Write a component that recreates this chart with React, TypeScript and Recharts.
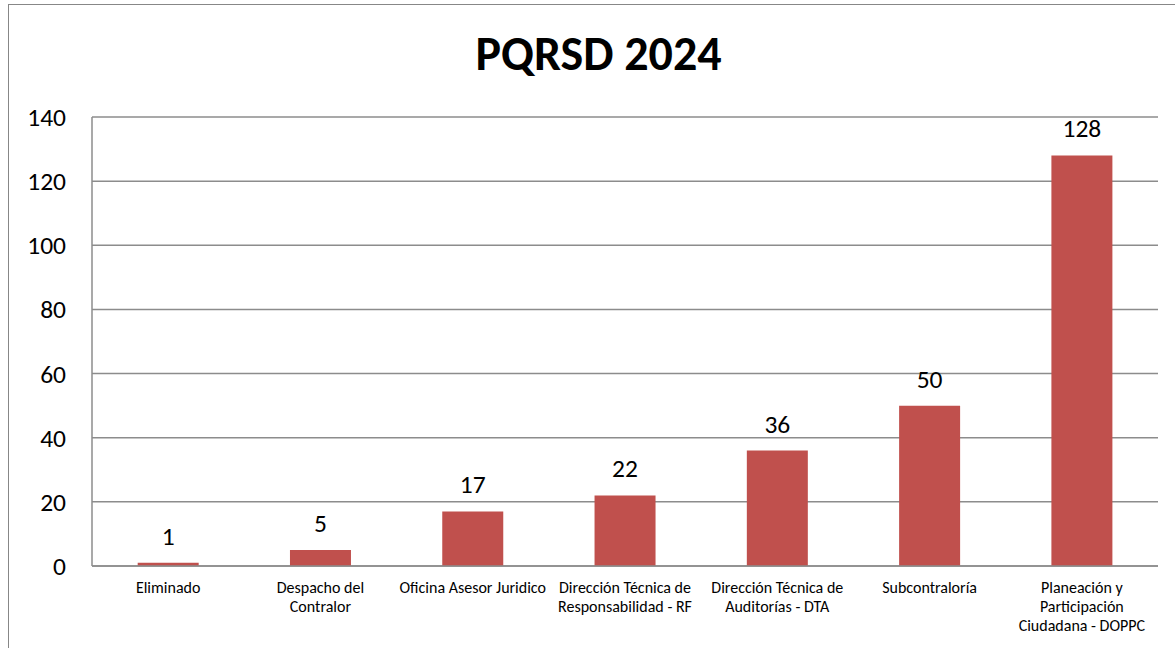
import React from 'react';
import { BarChart, Bar, XAxis, YAxis, CartesianGrid, LabelList } from 'recharts';

const categories = [
  'Eliminado',
  'Despacho del\nContralor',
  'Oficina Asesor Juridico',
  'Dirección Técnica de\nResponsabilidad - RF',
  'Dirección Técnica de\nAuditorías - DTA',
  'Subcontraloría',
  'Planeación y\nParticipación\nCiudadana - DOPPC',
];
const counts = [1, 5, 17, 22, 36, 50, 128];
const yTicks = [0, 20, 40, 60, 80, 100, 120, 140];

const FONT = "Carlito, Calibri, 'Liberation Sans Narrow', 'Open Sans', sans-serif";
const BAR_COLOR = '#c0504d';
const GRID_COLOR = '#8c8c8c';

const data = categories.map((name, i) => ({ name, value: counts[i] }));

function CategoryTick(props: any) {
  const { x, y, payload } = props;
  const lines = String(payload.value).split('\n');
  return (
    <text x={x} y={y} textAnchor="middle" fill="#000" fontSize={16} fontFamily={FONT}>
      {lines.map((line, i) => (
        <tspan key={i} x={x} dy={i === 0 ? 19 : 19}>
          {line}
        </tspan>
      ))}
    </text>
  );
}

export default function App() {
  return (
    <div
      style={{
        position: 'absolute',
        left: 0,
        top: 0,
        width: 1175,
        height: 648,
        overflow: 'hidden',
        background: '#fff',
        fontFamily: FONT,
      }}
    >
      <div
        style={{
          position: 'absolute',
          left: 8,
          top: 4,
          width: 1200,
          height: 700,
          border: '1px solid #878787',
        }}
      />
      <div
        style={{
          position: 'absolute',
          left: 0,
          top: 26,
          width: 1197,
          textAlign: 'center',
          fontSize: 48,
          fontWeight: 700,
          color: '#000',
          lineHeight: '56px',
        }}
      >
        PQRSD 2024
      </div>
      <div style={{ position: 'absolute', left: 0, top: 0 }}>
        <BarChart
          width={1175}
          height={648}
          data={data}
          margin={{ top: 117, right: 17, left: 0, bottom: 22 }}
          barCategoryGap="30%"
        >
          <CartesianGrid vertical={false} stroke={GRID_COLOR} strokeWidth={1.5} />
          <YAxis
            domain={[0, 140]}
            ticks={yTicks}
            width={92}
            axisLine={{ stroke: GRID_COLOR, strokeWidth: 1.5 }}
            tickLine={false}
            tickSize={0}
            tickMargin={26}
            tick={{ fill: '#000', fontSize: 25.5, fontFamily: FONT }}
          />
          <XAxis
            dataKey="name"
            height={60}
            interval={0}
            axisLine={{ stroke: GRID_COLOR, strokeWidth: 1.5 }}
            tickLine={false}
            tick={<CategoryTick />}
          />
          <Bar dataKey="value" fill={BAR_COLOR} isAnimationActive={false}>
            <LabelList
              dataKey="value"
              position="top"
              offset={18}
              fill="#000"
              fontSize={25.5}
              fontFamily={FONT}
            />
          </Bar>
        </BarChart>
      </div>
    </div>
  );
}
